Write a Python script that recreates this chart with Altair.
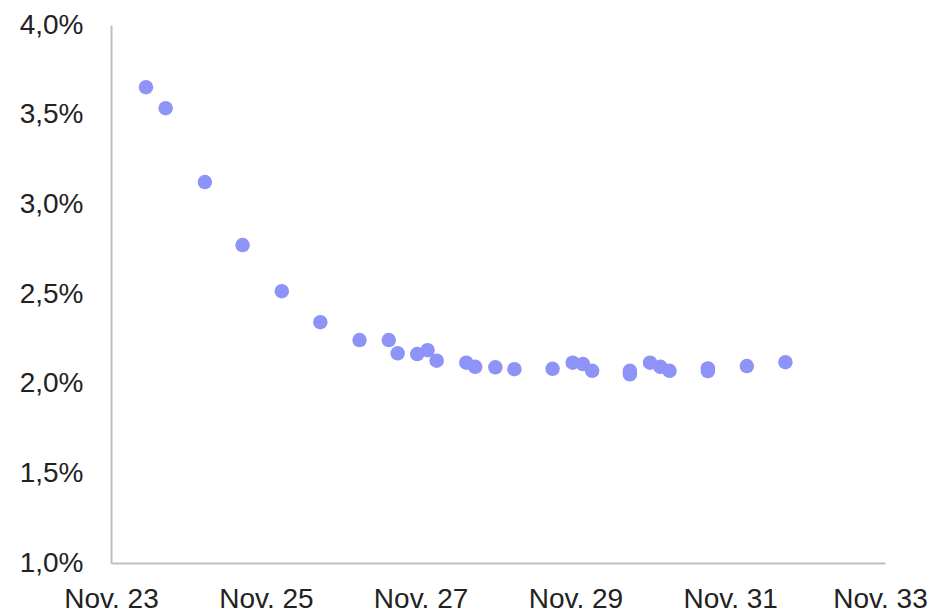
import altair as alt
import pandas as pd

dates = [
    "2024-04-14", "2024-07-16", "2025-01-17", "2025-07-14", "2026-01-15",
    "2026-07-16", "2027-01-17", "2027-06-04", "2027-07-16", "2027-10-16",
    "2027-12-04", "2028-01-16", "2028-06-04", "2028-07-16", "2028-10-19",
    "2029-01-17", "2029-07-16", "2029-10-19", "2029-12-07", "2030-01-19",
    "2030-07-16", "2030-07-16", "2030-10-19", "2030-12-07", "2031-01-19",
    "2031-07-19", "2031-07-19", "2032-01-19", "2032-07-19",
]
rates = [
    3.653, 3.536, 3.124, 2.773, 2.516,
    2.343, 2.243, 2.243, 2.169, 2.165,
    2.187, 2.128, 2.117, 2.094, 2.091,
    2.081, 2.083, 2.117, 2.109, 2.072,
    2.072, 2.052, 2.117, 2.094, 2.072,
    2.085, 2.070, 2.098, 2.120,
]
tick_years = [2023, 2025, 2027, 2029, 2031, 2033]
y_ticks = [1.0, 1.5, 2.0, 2.5, 3.0, 3.5, 4.0]

df = pd.DataFrame({"date": dates, "rate": [r / 100 for r in rates]})

x_axis = alt.Axis(
    values=[alt.DateTime(year=y, month=11, date=1, utc=True) for y in tick_years],
    labelExpr="utcFormat(datum.value, '%b. %y')",
    ticks=False, grid=False, title=None,
    labelPadding=22, labelFontSize=28, labelFont="Liberation Sans",
    labelColor="#222222", domainColor="#BFBFBF", domainWidth=2,
    labelFlush=False, labelOverlap=False,
    labelOffset={"condition": {"test": "utcyear(datum.value) >= 2033", "value": -5}, "value": 0},
)
y_axis = alt.Axis(
    values=[v / 100 for v in y_ticks],
    labelExpr="replace(format(datum.value, '.1%'), '.', ',')",
    ticks=False, grid=False, title=None,
    labelPadding=28, labelFontSize=28, labelFont="Liberation Sans",
    labelColor="#222222", domainColor="#BFBFBF", domainWidth=2,
    labelOverlap=False,
)

chart = alt.Chart(df).mark_circle(size=210, color="#8E93F7", opacity=1).encode(
    x=alt.X("date:T", axis=x_axis,
            scale=alt.Scale(type="utc", domain=[
                alt.DateTime(year=2023, month=11, date=1, utc=True),
                alt.DateTime(year=2033, month=11, date=1, utc=True)])),
    y=alt.Y("rate:Q", axis=y_axis, scale=alt.Scale(domain=[0.01, 0.04], nice=False)),
).properties(
    width=774, height=538,
    autosize=alt.AutoSizeParams(type="none"),
    padding={"left": 103, "top": 17, "right": 44, "bottom": 70},
    background="white",
).configure_view(stroke=None)

chart.save("out.html", embed_options={"renderer": "svg", "actions": False})
